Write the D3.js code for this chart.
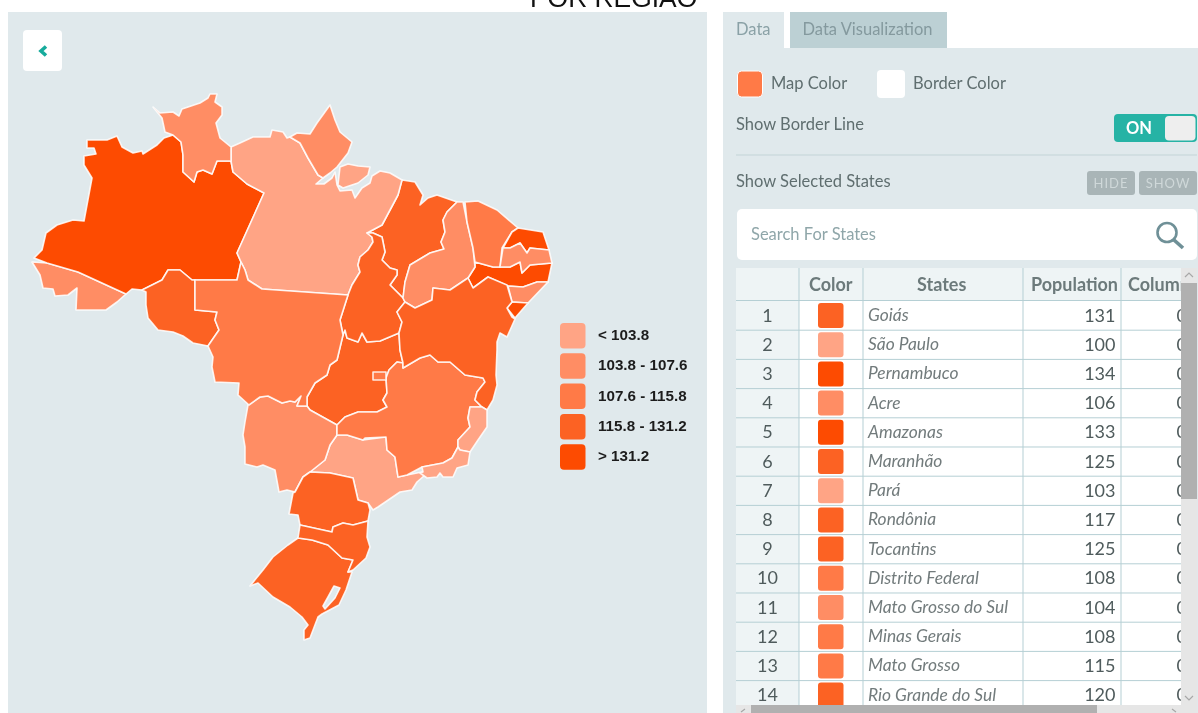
<!DOCTYPE html>
<html>

<head>
    <meta charset="utf-8">
    <title>Por Região</title>
    <script src="https://d3js.org/d3.v7.min.js"></script>
    <style>
        html, body {
            margin: 0;
            padding: 0;
            background: #fff;
            overflow: hidden;
        }

        svg {
            display: block;
            filter: blur(0.4px);
        }

        .ui {
            font-family: Lato, sans-serif;
            font-size: 16.5px;
            fill: #5f6e6f;
        }

        .legend-text {
            font-family: "Liberation Sans", Arial, sans-serif;
            font-size: 15.2px;
            font-weight: bold;
            fill: #1c1c1c;
        }
    </style>
</head>

<body>
    <svg id="chart" width="1198" height="713"></svg>

    <script>
        // class breaks and colours of the map
        const breaks = [103.8, 107.6, 115.8, 131.2];
        const classColors = ["#ffa485", "#ff8d64", "#ff7a47", "#fc6223", "#fd4b01"];
        const legendLabels = ["< 103.8", "103.8 - 107.6", "107.6 - 115.8", "115.8 - 131.2", "> 131.2"];

        // table rows, in the order shown
        const tableStates = ["Goiás", "São Paulo", "Pernambuco", "Acre", "Amazonas", "Maranhão", "Pará", "Rondônia",
            "Tocantins", "Distrito Federal", "Mato Grosso do Sul", "Minas Gerais", "Mato Grosso", "Rio Grande do Sul"];
        const tablePopulation = [131, 100, 134, 106, 133, 125, 103, 117, 125, 108, 104, 108, 115, 120];

        // states below the visible rows, values estimated from their colour class
        const otherStates = ["Roraima", "Amapá", "Piauí", "Ceará", "Rio Grande do Norte", "Paraíba", "Alagoas", "Sergipe",
            "Bahia", "Espírito Santo", "Rio de Janeiro", "Paraná", "Santa Catarina"];
        const otherPopulation = [105, 106, 105, 112, 135, 106, 105, 133, 119, 101, 102, 122, 126];

        // outlines, in map units
        const outlineAmazonas = [[34,258],[42,250],[46,233],[57,225],[73,220],[84,221],[92,178],[84,165],[84,156],[96,154],[94,148],[87,148],[87,140],[107,140],[117,136],[122,147],[133,153],[142,151],[143,154],[157,145],[164,138],[173,135],[181,142],[183,155],[183,172],[194,182],[197,172],[203,170],[212,174],[217,161],[231,161],[233,172],[247,184],[264,193],[237,253],[241,262],[237,280],[196,280],[192,280],[180,270],[168,270],[162,280],[152,285],[142,290],[132,289],[126,294],[78,272],[47,263]];
        const outlineRoraima = [[153,107],[160,113],[173,112],[179,116],[182,109],[200,103],[208,98],[210,94],[217,94],[215,102],[222,107],[222,115],[216,123],[220,138],[231,147],[231,161],[217,161],[212,174],[203,170],[197,172],[194,182],[183,172],[183,155],[181,142],[173,135],[165,132],[162,118]];
        const outlineAcre = [[32,262],[40,275],[43,288],[53,289],[55,296],[68,295],[77,288],[76,310],[100,310],[106,310],[117,302],[126,294],[78,272],[47,263]];
        const outlineRondonia = [[146,292],[142,290],[152,285],[162,280],[168,270],[180,270],[192,280],[195,280],[195,310],[217,312],[215,320],[219,330],[208,346],[193,343],[183,336],[173,332],[158,330],[148,318],[146,305]];
        const outlineMatoGrosso = [[195,280],[237,280],[241,262],[245,270],[248,280],[262,289],[348,295],[340,320],[343,335],[337,360],[330,365],[327,375],[315,383],[307,397],[307,406],[297,406],[301,396],[295,402],[290,401],[282,403],[268,396],[260,397],[249,405],[238,395],[239,383],[215,382],[212,367],[213,357],[208,346],[219,330],[215,320],[217,312],[195,310]];
        const outlinePara = [[231,147],[240,143],[253,137],[270,137],[272,130],[283,132],[287,138],[290,137],[300,143],[308,158],[318,175],[323,178],[316,184],[324,184],[332,178],[335,172],[337,185],[340,191],[352,190],[355,198],[362,188],[370,183],[372,176],[380,171],[390,173],[402,180],[398,195],[390,210],[382,225],[367,233],[372,237],[373,242],[368,250],[360,257],[358,265],[360,272],[352,285],[348,295],[262,289],[248,280],[245,270],[241,262],[237,253],[264,193],[247,184],[233,172],[231,161]];
        const outlineMarajo = [[340,167],[348,164],[358,166],[370,167],[368,175],[358,183],[343,188],[338,185]];
        const outlineAmapa = [[290,137],[297,133],[310,134],[317,123],[330,105],[335,120],[340,132],[352,142],[348,153],[337,167],[330,173],[323,178],[318,175],[308,158],[300,143]];
        const outlineMaranhao = [[402,180],[415,182],[423,195],[420,205],[428,198],[437,195],[457,202],[447,212],[443,220],[445,232],[441,242],[444,249],[430,253],[410,265],[405,282],[403,298],[397,292],[390,285],[397,275],[397,270],[390,268],[382,260],[385,252],[382,237],[373,233],[367,233],[382,225],[390,210],[398,195]];
        const outlineTocantins = [[373,233],[382,237],[385,252],[382,260],[390,268],[397,270],[397,275],[390,285],[397,292],[403,298],[405,302],[397,312],[402,322],[399,333],[380,341],[367,342],[362,333],[358,342],[347,338],[345,330],[343,335],[340,320],[348,295],[352,285],[360,272],[358,265],[360,257],[368,250],[373,242],[372,237],[367,233]];
        const outlineGoias = [[343,335],[345,330],[347,338],[358,342],[362,333],[367,342],[380,341],[399,333],[400,350],[403,363],[397,362],[389,370],[386,378],[387,393],[383,400],[387,407],[377,412],[358,412],[345,417],[337,425],[310,410],[307,406],[307,397],[315,383],[327,375],[330,365],[337,360]];
        const outlineDistrito = [[373,372],[386,372],[386,380],[373,380]];
        const outlineMinas = [[337,425],[345,417],[358,412],[377,412],[387,407],[383,400],[387,393],[386,378],[389,370],[397,362],[403,363],[403,368],[420,358],[430,355],[438,362],[450,362],[465,375],[483,378],[485,382],[477,392],[475,400],[482,407],[470,407],[468,418],[470,427],[458,440],[458,447],[452,458],[443,463],[422,467],[407,475],[398,477],[395,457],[387,450],[386,437],[365,438],[363,440],[347,435],[337,435]];
        const outlineEspirito = [[482,407],[487,410],[487,427],[478,440],[470,452],[460,450],[458,447],[458,440],[470,427],[468,418],[470,407]];
        const outlineRio = [[458,447],[460,450],[470,452],[468,465],[457,468],[453,477],[443,477],[440,473],[437,477],[427,478],[420,473],[423,472],[422,467],[443,463],[452,458]];
        const outlineSaoPaulo = [[337,435],[347,435],[363,440],[386,437],[387,450],[395,457],[398,477],[407,475],[422,472],[425,475],[417,482],[412,490],[400,492],[378,507],[373,510],[368,503],[358,500],[353,478],[330,473],[310,472],[325,460],[330,445]];
        const outlineMatoSul = [[248,405],[260,397],[268,396],[282,403],[290,401],[295,402],[301,396],[297,406],[307,406],[310,410],[337,425],[337,435],[330,445],[325,460],[310,472],[303,477],[295,492],[287,490],[279,492],[275,470],[263,465],[257,467],[245,464],[245,447],[243,435],[245,422]];
        const outlineParana = [[303,477],[310,472],[330,473],[353,478],[358,500],[368,503],[370,510],[368,521],[353,525],[343,523],[333,527],[332,532],[300,525],[298,515],[289,514],[293,493],[295,492]];
        const outlineSanta = [[300,525],[332,532],[333,527],[343,523],[353,525],[368,521],[367,537],[370,547],[366,558],[353,570],[348,572],[353,560],[342,558],[328,545],[312,540],[298,538]];
        const outlineRioSul = [[298,538],[312,540],[328,545],[342,558],[353,560],[348,572],[352,572],[346,590],[339,605],[322,614],[318,617],[310,638],[304,640],[304,630],[308,625],[302,617],[290,607],[273,597],[258,583],[250,586],[263,570],[273,557],[288,545]];
        const outlineLagoa = [[334,586],[340,588],[335,598],[325,609],[323,606],[328,597]];
        const outlineBahia = [[405,302],[415,308],[432,300],[433,288],[450,290],[468,278],[473,288],[488,277],[507,285],[512,302],[507,308],[512,317],[515,319],[507,337],[500,333],[497,342],[497,350],[496,375],[497,385],[493,400],[487,410],[482,407],[475,400],[477,392],[485,382],[483,378],[465,375],[450,362],[438,362],[430,355],[420,358],[403,368],[403,363],[400,350],[399,333],[402,322],[397,312]];
        const outlinePiaui = [[457,202],[463,202],[467,222],[473,248],[475,267],[468,278],[450,290],[433,288],[432,300],[415,308],[405,302],[403,298],[405,282],[410,265],[430,253],[444,249],[441,242],[445,232],[443,220],[447,212]];
        const outlineCeara = [[465,202],[478,201],[497,210],[518,228],[512,232],[502,248],[500,267],[493,267],[475,262],[473,248],[467,222]];
        const outlineNorte = [[518,228],[543,232],[549,250],[530,248],[527,253],[520,243],[510,248],[503,248],[512,232]];
        const outlinePernambuco = [[475,262],[493,267],[500,267],[510,267],[520,262],[522,273],[530,265],[552,263],[548,282],[537,282],[523,287],[508,286],[488,277],[473,288],[468,278],[475,267]];
        const outlineParaiba = [[503,248],[510,248],[520,243],[527,253],[530,248],[549,250],[552,263],[530,265],[522,273],[520,262],[510,267],[500,267]];
        const outlineAlagoas = [[508,286],[523,287],[537,282],[548,282],[528,303],[512,302]];
        const outlineSergipe = [[512,302],[528,303],[515,318],[507,308]];

        // rings of each state, matched to the names in the two lists above
        const stateRings = {
            "Goiás": [outlineGoias], "São Paulo": [outlineSaoPaulo], "Pernambuco": [outlinePernambuco], "Acre": [outlineAcre],
            "Amazonas": [outlineAmazonas], "Maranhão": [outlineMaranhao], "Pará": [outlinePara, outlineMarajo],
            "Rondônia": [outlineRondonia], "Tocantins": [outlineTocantins], "Distrito Federal": [outlineDistrito],
            "Mato Grosso do Sul": [outlineMatoSul], "Minas Gerais": [outlineMinas], "Mato Grosso": [outlineMatoGrosso],
            "Rio Grande do Sul": [outlineRioSul, outlineLagoa], "Roraima": [outlineRoraima], "Amapá": [outlineAmapa],
            "Piauí": [outlinePiaui], "Ceará": [outlineCeara], "Rio Grande do Norte": [outlineNorte], "Paraíba": [outlineParaiba],
            "Alagoas": [outlineAlagoas], "Sergipe": [outlineSergipe], "Bahia": [outlineBahia], "Espírito Santo": [outlineEspirito],
            "Rio de Janeiro": [outlineRio], "Paraná": [outlineParana], "Santa Catarina": [outlineSanta]
        };

        const svg = d3.select("#chart");
        const color = d3.scaleThreshold().domain(breaks).range(classColors);

        svg.append("text").attr("x", 530).attr("y", 7)
            .style("font-family", "'Liberation Sans', Arial, sans-serif").style("font-size", "26.4px").style("fill", "#111")
            .text("POR REGIÃO");

        // left panel
        svg.append("rect").attr("x", 8).attr("y", 12).attr("width", 699).attr("height", 701).attr("fill", "#e0e9ec");
        svg.append("rect").attr("x", 23).attr("y", 30).attr("width", 39).attr("height", 41).attr("rx", 4).attr("fill", "#fff");
        svg.append("path").attr("d", "M46,46.5 L41,51 L46,55.5").attr("fill", "none")
            .attr("stroke", "#16ab9c").attr("stroke-width", 3.6);

        // map
        const names = tableStates.concat(otherStates);
        const values = tablePopulation.concat(otherPopulation);
        const features = names.map(function(name, i) {
            return {
                type: "Feature",
                properties: { name: name, value: values[i] },
                geometry: { type: "Polygon", coordinates: stateRings[name].map(r => r.concat([r[0]])) }
            };
        });
        // Pará's rings are two separate land parts, so it goes as a multipolygon
        features.filter(f => f.properties.name == "Pará").forEach(function(f) {
            f.geometry = { type: "MultiPolygon", coordinates: f.geometry.coordinates.map(r => [r]) };
        });

        const path = d3.geoPath(d3.geoIdentity());
        // the Distrito Federal sits on top of Goiás
        svg.append("g").selectAll("path")
            .data(features.slice().sort((a, b) => (a.properties.name == "Distrito Federal") - (b.properties.name == "Distrito Federal")))
            .enter()
            .append("path")
            .attr("d", path)
            .attr("fill", d => color(d.properties.value))
            .attr("fill-rule", "evenodd")
            .attr("stroke", "#fff")
            .attr("stroke-opacity", 0.85)
            .attr("stroke-width", 1.6)
            .attr("stroke-linejoin", "round");

        // legend
        const legendY = d3.scaleBand().domain(d3.range(legendLabels.length)).range([320.5, 472]);
        const legend = svg.append("g").selectAll("g").data(legendLabels).enter().append("g")
            .attr("transform", (d, i) => "translate(560," + legendY(i) + ")");
        legend.append("rect").attr("y", 2.5).attr("width", 25.5).attr("height", 25.5).attr("rx", 4)
            .attr("fill", (d, i) => classColors[i]);
        legend.append("text").attr("class", "legend-text").attr("x", 38).attr("y", 19.5).text(d => d);

        // right panel
        svg.append("rect").attr("x", 723).attr("y", 48).attr("width", 475).attr("height", 665).attr("fill", "#e0e9ec");
        svg.append("rect").attr("x", 723).attr("y", 12).attr("width", 61).attr("height", 37).attr("fill", "#e0e9ec");
        svg.append("rect").attr("x", 790).attr("y", 12).attr("width", 157).attr("height", 36).attr("fill", "#bcd0d4");
        svg.append("text").attr("class", "ui").attr("x", 736).attr("y", 35).style("fill", "#8aa1a6").text("Data");
        svg.append("text").attr("class", "ui").attr("x", 802.5).attr("y", 35).style("fill", "#84999e").text("Data Visualization");

        svg.append("rect").attr("x", 737.5).attr("y", 71).attr("width", 25).attr("height", 26).attr("rx", 4)
            .attr("fill", "#ff7a47").attr("stroke", "#fff").attr("stroke-width", 1);
        svg.append("text").attr("class", "ui").attr("x", 771).attr("y", 89).text("Map Color");
        svg.append("rect").attr("x", 877).attr("y", 70).attr("width", 28).attr("height", 28).attr("rx", 4).attr("fill", "#fff");
        svg.append("text").attr("class", "ui").attr("x", 913).attr("y", 89).text("Border Color");
        svg.append("text").attr("class", "ui").attr("x", 736).attr("y", 130).text("Show Border Line");

        svg.append("rect").attr("x", 1114).attr("y", 114).attr("width", 83).attr("height", 28).attr("rx", 4).attr("fill", "#26b3a5");
        svg.append("rect").attr("x", 1165).attr("y", 116).attr("width", 30.5).attr("height", 24.5).attr("rx", 4).attr("fill", "#eeeeee");
        svg.append("text").attr("class", "ui").attr("x", 1126).attr("y", 133.5).style("fill", "#fff").style("font-weight", "bold").text("ON");

        svg.append("line").attr("x1", 736).attr("x2", 1197).attr("y1", 155).attr("y2", 155).attr("stroke", "#c3d4d7");
        svg.append("text").attr("class", "ui").attr("x", 736).attr("y", 187).text("Show Selected States");

        const buttonLabels = ["HIDE", "SHOW"];
        const buttonX = [1087, 1139];
        const buttonW = [48, 58];
        buttonLabels.forEach(function(label, i) {
            svg.append("rect").attr("x", buttonX[i]).attr("y", 171).attr("width", buttonW[i]).attr("height", 24).attr("rx", 3).attr("fill", "#a9b5b7");
            svg.append("text").attr("class", "ui").attr("x", buttonX[i] + buttonW[i] / 2).attr("y", 187.5)
                .attr("text-anchor", "middle").style("font-size", "13px").style("letter-spacing", "1px").style("fill", "#cfd8d9").text(label);
        });

        svg.append("rect").attr("x", 737).attr("y", 209).attr("width", 460).attr("height", 51).attr("rx", 5).attr("fill", "#fff");
        svg.append("text").attr("class", "ui").attr("x", 751).attr("y", 240).style("fill", "#8fa6a9").text("Search For States");
        svg.append("circle").attr("cx", 1167).attr("cy", 232.5).attr("r", 9.5).attr("fill", "none").attr("stroke", "#6f9097").attr("stroke-width", 2.6);
        svg.append("line").attr("x1", 1174).attr("y1", 240).attr("x2", 1183).attr("y2", 248).attr("stroke", "#6f9097").attr("stroke-width", 3.6);

        // table
        const colEdges = [736, 799, 863, 1023, 1121, 1181];
        const headLabels = ["", "Color", "States", "Population", "Column"];
        const headX = [0, 809, 917, 1031, 1128];
        const rowY = d3.scaleBand().domain(d3.range(1, tableStates.length + 1)).range([301, 301 + 14 * 29.2]);

        svg.append("clipPath").attr("id", "table-clip").append("rect").attr("x", 736).attr("y", 268).attr("width", 445).attr("height", 437);
        const tableG = svg.append("g").attr("clip-path", "url(#table-clip)");

        tableG.append("rect").attr("x", 736).attr("y", 268).attr("width", 445).attr("height", 437).attr("fill", "#fff");
        tableG.append("rect").attr("x", 736).attr("y", 268).attr("width", 445).attr("height", 33).attr("fill", "#eef4f5");
        tableG.append("rect").attr("x", 736).attr("y", 268).attr("width", 63).attr("height", 437).attr("fill", "#eef4f5");

        headLabels.forEach(function(label, i) {
            var cell = tableG.append("svg").attr("x", colEdges[i]).attr("y", 268)
                .attr("width", i == 4 ? 60 : colEdges[i + 1] - colEdges[i] - 5).attr("height", 33);
            cell.append("text").attr("class", "ui").attr("x", headX[i] - colEdges[i]).attr("y", 23)
                .style("font-weight", "bold").style("font-size", "18px").style("fill", "#6c7a7b")
                .text(label);
        });

        const rows = tableG.selectAll(".row").data(tableStates).enter().append("g").attr("class", "row")
            .attr("transform", (d, i) => "translate(0," + rowY(i + 1) + ")");
        rows.append("text").attr("class", "ui").attr("x", 767.5).attr("y", 20.5).attr("text-anchor", "middle")
            .style("font-size", "18px").style("fill", "#4f5b5c").text((d, i) => i + 1);
        rows.append("rect").attr("x", 818).attr("y", 2).attr("width", 25.5).attr("height", 25).attr("rx", 3)
            .attr("fill", (d, i) => color(tablePopulation[i]));
        rows.append("text").attr("class", "ui").attr("x", 868).attr("y", 20).style("font-style", "italic")
            .style("font-size", "17.4px").style("fill", "#727b7c").text(d => d);
        rows.append("text").attr("class", "ui").attr("x", 1115.5).attr("y", 20.5).attr("text-anchor", "end")
            .style("font-size", "18px").style("fill", "#4f5b5c").text((d, i) => tablePopulation[i]);
        rows.append("text").attr("class", "ui").attr("x", 1187).attr("y", 20.5).attr("text-anchor", "end")
            .style("font-size", "18px").style("fill", "#4f5b5c").text("0");
        rows.append("line").attr("x1", 736).attr("x2", 1181).attr("y1", rowY.bandwidth()).attr("y2", rowY.bandwidth())
            .attr("stroke", "#b5cfd4");

        tableG.append("line").attr("x1", 736).attr("x2", 1181).attr("y1", 300.5).attr("y2", 300.5).attr("stroke", "#b5cfd4");
        colEdges.slice(1, 5).forEach(function(x) {
            tableG.append("line").attr("x1", x).attr("x2", x).attr("y1", 268).attr("y2", 705).attr("stroke", "#b5cfd4");
        });

        // scrollbars
        svg.append("rect").attr("x", 1181).attr("y", 268).attr("width", 16).attr("height", 437).attr("fill", "#e6e6e6");
        svg.append("rect").attr("x", 1181).attr("y", 283).attr("width", 16).attr("height", 216).attr("fill", "#b0b0b0");
        svg.append("rect").attr("x", 736).attr("y", 705).attr("width", 461).attr("height", 8).attr("fill", "#e6e6e6");
        svg.append("rect").attr("x", 751).attr("y", 705).attr("width", 346).attr("height", 8).attr("fill", "#b0b0b0");
        svg.append("path").attr("d", "M1185,277 L1189,273 L1193,277 M1185,696 L1189,700 L1193,696").attr("fill", "none").attr("stroke", "#a8a8a8").attr("stroke-width", 1.2);
        svg.append("path").attr("d", "M745,709 L741,712 M1172,709 L1176,712").attr("fill", "none").attr("stroke", "#a8a8a8").attr("stroke-width", 1.2);
    </script>
</body>

</html>
